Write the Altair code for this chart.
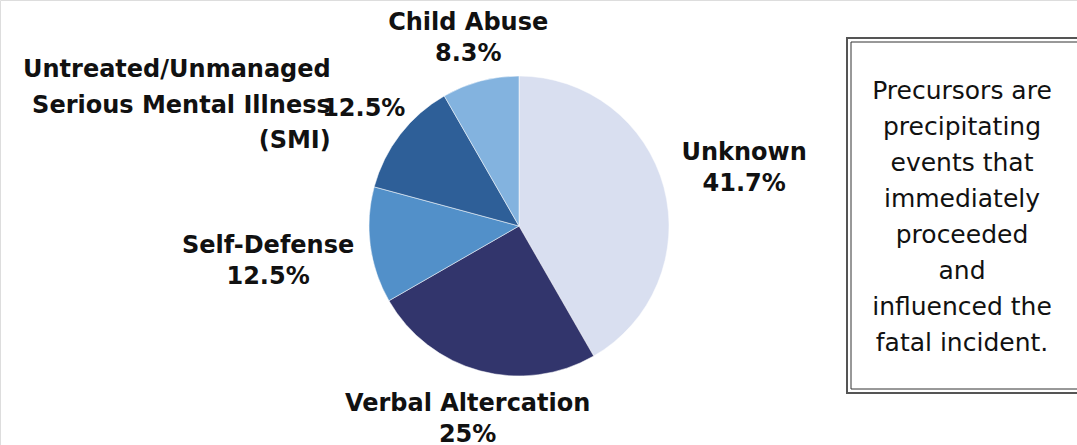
import altair as alt
import pandas as pd

# ---- data ----
categories = ["Unknown", "Verbal Altercation", "Self-Defense",
              "Untreated/Unmanaged Serious Mental Illness (SMI)", "Child Abuse"]
values = [41.7, 25.0, 12.5, 12.5, 8.3]
pct_labels = ["41.7%", "25%", "12.5%", "12.5%", "8.3%"]
name_lines = ["Unknown", "Verbal Altercation", "Self-Defense",
              "Untreated/Unmanaged\nSerious  Mental Illness\n(SMI)", "Child Abuse"]
colors = ["#d9dff0", "#32356c", "#5290c9", "#2e5f98", "#83b3df"]
note_text = ("Precursors are\nprecipitating\nevents that\nimmediately\n"
             "proceeded\nand\ninfluenced the\nfatal incident.")

# label placement (kept apart from the data)
label_radius = [233, 197, 253, 196, 197]
smi_index = 3

rows = []
for i, c in enumerate(categories):
    is_smi = i == smi_index
    rows.append({
        "category": c,
        "value": values[i],
        "idx": i,
        "r": label_radius[i],
        "main_text": "" if is_smi else f"{name_lines[i]}\n{pct_labels[i]}",
        "smi_pct": pct_labels[i] if is_smi else "",
        "smi_name": name_lines[i] if is_smi else "",
    })
df = pd.DataFrame(rows)

CX, CY, R = 519, 226, 150
FONT = "DejaVu Sans"
LABEL_SIZE = 24

arcs = alt.Chart(df).mark_arc(outerRadius=R, stroke="white", strokeWidth=0.5).encode(
    theta=alt.Theta("value:Q", stack=True),
    order=alt.Order("idx:Q"),
    color=alt.Color("category:N",
                    scale=alt.Scale(domain=categories, range=colors),
                    legend=None),
    x=alt.value(CX), y=alt.value(CY),
)

# label anchor: middle angle of each slice, computed with Vega-Lite transforms
lab = alt.Chart(df).transform_joinaggregate(
    total="sum(value)"
).transform_window(
    cum="sum(value)", sort=[alt.SortField("idx")], frame=[None, 0]
).transform_calculate(
    mid="(datum.cum - datum.value / 2) / datum.total * 2 * PI"
).transform_calculate(
    lx=f"{CX} + datum.r * sin(datum.mid)",
    ly=f"{CY} - datum.r * cos(datum.mid)",
).encode(
    x=alt.X("lx:Q", scale=None),
    y=alt.Y("ly:Q", scale=None),
)

main_labels = lab.mark_text(
    font=FONT, fontSize=LABEL_SIZE, fontWeight="bold", color="#111111",
    lineBreak="\n", lineHeight=31, align="center", baseline="middle", dy=-12.5,
).encode(text="main_text:N")

smi_pct = lab.mark_text(
    font=FONT, fontSize=LABEL_SIZE, fontWeight="bold", color="#111111",
    align="center", baseline="middle", dy=3,
).encode(text="smi_pct:N")

smi_name = lab.mark_text(
    font=FONT, fontSize=LABEL_SIZE, fontWeight="bold", color="#111111",
    lineBreak="\n", lineHeight=35.5, align="right", baseline="middle",
    dx=-33, dy=-36,
).encode(text="smi_name:N")

note_df = pd.DataFrame({"note": [note_text]})
box_outer = alt.Chart(note_df).mark_rect(
    fill="white", stroke="#555555", strokeWidth=2
).encode(x=alt.value(847), x2=alt.value(1085), y=alt.value(38), y2=alt.value(393))
box_inner = alt.Chart(note_df).mark_rect(
    fill="white", stroke="#333333", strokeWidth=1
).encode(x=alt.value(851), x2=alt.value(1085), y=alt.value(42), y2=alt.value(389))
note = alt.Chart(note_df).mark_text(
    font=FONT, fontSize=25, color="#111111", lineBreak="\n", lineHeight=36,
    align="center", baseline="middle",
).encode(text="note:N", x=alt.value(962), y=alt.value(91))

chart = alt.layer(arcs, main_labels, smi_pct, smi_name, box_outer, box_inner, note).properties(
    width=1077, height=445,
    autosize=alt.AutoSizeParams(type="none"),
    padding=0,
).configure_view(stroke=None).configure(background="white")

chart.save("out.html", embed_options={"renderer": "svg", "actions": False})
